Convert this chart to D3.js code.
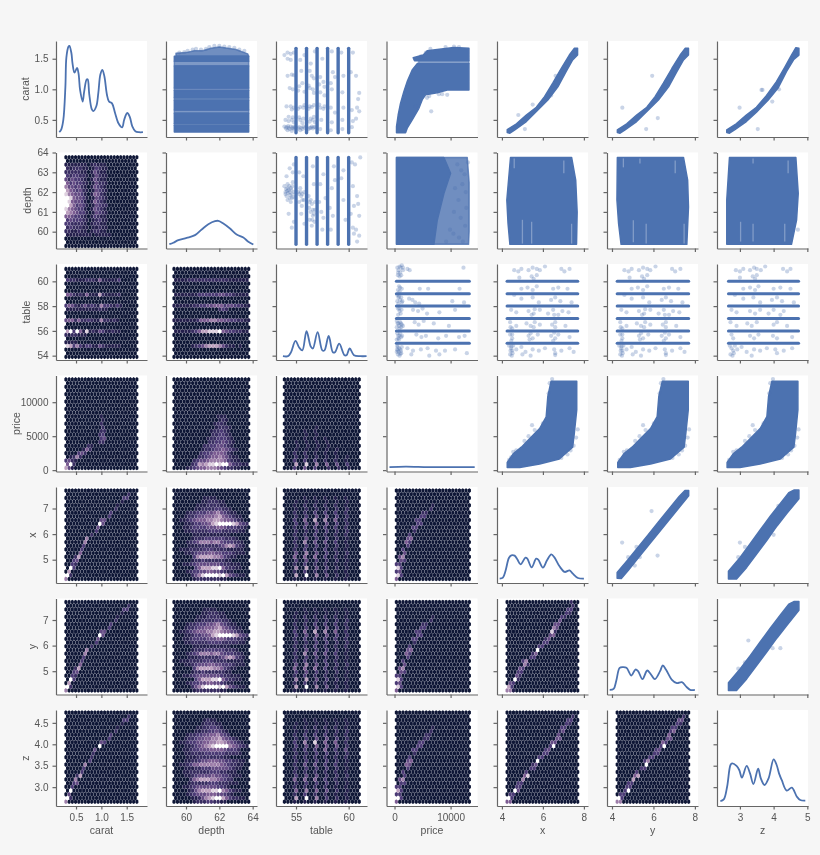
<!DOCTYPE html>
<meta charset="utf-8">
<style>
  body { margin: 0; background: #f6f6f6; }
  svg { display: block; filter: blur(0.4px); }
  .tick text, .lab { font-family: "Liberation Sans", Arial, sans-serif; fill: #555; }
  .tick text { font-size: 10px; }
  .lab { font-size: 10.5px; }
  .tick line, .domain { stroke: #666; stroke-width: 1.2px; }
</style>
<body>
<script src="https://d3js.org/d3.v7.min.js"></script>
<script>
// variables of the pair grid
var vars = ["carat", "depth", "table", "price", "x", "y", "z"];

// axis limits and ticks
var xDomains = [[0.105, 1.9], [58.8, 64.26], [53.1, 61.74], [-1430, 14800], [3.76, 8.2], [3.76, 8.15], [2.32, 5.02]];
var yDomains = [[0.22, 1.79], [59.15, 64.0], [53.65, 61.4], [-200, 13930], [4.09, 7.84], [4.09, 7.84], [2.56, 4.8]];
var xTicks = [[0.5, 1, 1.5], [60, 62, 64], [55, 60], [0, 10000], [4, 6, 8], [4, 6, 8], [3, 4, 5]];
var yTicks = [[0.5, 1, 1.5], [60, 61, 62, 63, 64], [54, 56, 58, 60], [0, 5000, 10000], [5, 6, 7], [5, 6, 7], [3, 3.5, 4, 4.5]];
var extents = [[0.3, 1.7], [59.28, 63.76], [53.9, 61], [330, 13350], [4.25, 7.7], [4.25, 7.7], [2.66, 4.74]];
var tableValues = [55, 56, 57, 58, 59, 60];

// kernel density curves: [value, height as share of the panel]
var kdeCarat = [[.17,.05],[.21,.08],[.25,.18],[.29,.52],[.31,.83],[.35,.94],[.37,.95],[.41,.87],[.43,.77],[.47,.67],[.52,.72],[.55,.66],[.58,.49],[.63,.37],[.66,.47],[.71,.6],[.73,.6],[.76,.45],[.81,.29],[.84,.27],[.9,.32],[.94,.46],[.98,.65],[1.02,.7],[1.06,.63],[1.11,.44],[1.15,.37],[1.21,.35],[1.27,.25],[1.34,.14],[1.41,.1],[1.45,.18],[1.51,.25],[1.56,.21],[1.61,.11],[1.67,.06],[1.74,.05],[1.82,.05]];
var kdeDepth = [[59,.045],[59.24,.06],[59.54,.087],[60.04,.11],[60.54,.139],[60.94,.198],[61.34,.253],[61.74,.285],[61.94,.288],[62.24,.26],[62.64,.208],[63.04,.146],[63.44,.115],[63.74,.07],[64.04,.042]];
var kdeTable = [[53.76,.04],[54.24,.04],[54.52,.08],[54.95,.2],[55.3,.13],[55.6,.1],[56,.3],[56.4,.14],[56.6,.12],[57.05,.29],[57.5,.1],[57.7,.1],[58.1,.25],[58.5,.08],[58.7,.08],[59.1,.17],[59.6,.05],[59.8,.05],[60.1,.12],[60.5,.05],[61.1,.04],[61.7,.04]];
var kdePrice = [[-900,.045],[2000,.05],[6000,.045],[10000,.045],[14300,.045]];
var kdeX = [[3.89,.045],[4.05,.056],[4.18,.13],[4.34,.26],[4.46,.288],[4.62,.285],[4.75,.247],[4.91,.194],[5.15,.264],[5.24,.253],[5.45,.163],[5.67,.253],[5.77,.243],[6,.16],[6.2,.236],[6.41,.299],[6.57,.264],[6.81,.174],[7.06,.115],[7.3,.132],[7.46,.097],[7.71,.052],[8,.045]];
var kdeY = [[3.89,.049],[4.08,.059],[4.21,.146],[4.37,.278],[4.53,.285],[4.7,.278],[4.94,.198],[5.13,.26],[5.26,.243],[5.47,.16],[5.7,.25],[5.86,.215],[6.07,.16],[6.32,.243],[6.45,.302],[6.61,.257],[6.88,.156],[7.13,.118],[7.37,.128],[7.61,.076],[7.77,.049],[8,.049]];
var kdeZ = [[2.42,.052],[2.52,.069],[2.62,.201],[2.72,.427],[2.77,.444],[2.9,.417],[2.98,.375],[3.06,.295],[3.2,.417],[3.3,.34],[3.4,.229],[3.54,.389],[3.62,.288],[3.73,.219],[3.85,.288],[4,.486],[4.09,.427],[4.16,.34],[4.24,.271],[4.39,.16],[4.54,.191],[4.69,.097],[4.79,.062],[4.94,.056]];
var kdes = [kdeCarat, kdeDepth, kdeTable, kdePrice, kdeX, kdeY, kdeZ];

// hexbin counts, levels 0-9 as [row from the bottom, first column, digits]
var hexDepthCarat = [[3,0,"111111110111110"],[4,0,"221121101221100"],[5,0,"232221101121100"],[6,0,"332222101221100"],[7,0,"343332101231100"],[8,0,"554332101321100"],[9,0,"765433101432100"],[10,0,"865433101432100"],[11,0,"975343101432200"],[12,0,"985443101532100"],[13,0,"985443101432100"],[14,0,"865443101542100"],[15,0,"754342101432100"],[16,0,"644342101432100"],[17,0,"534332101422100"],[18,0,"424332101421100"],[19,0,"323322101421100"],[20,0,"222221101421100"],[21,0,"212221101321100"],[22,0,"111111101211100"]];
var hexTableCarat = [[3,0,"87363133114211111"],[7,0,"79395181214311211"],[10,0,"45525223211622121"],[14,0,"354212423216332131"],[17,0,"54212151117211112"],[21,0,"32211122215111113"],[13,0,"1111111111211"],[6,0,"2122111"],[4,0,"1111"]];
var hexTableDepth = [[3,5,"1234677764211 1"],[7,0,"1111123577888954332211"],[10,0,"11111112555665544332211"],[13,13,"232"],[14,0,"11111122334455534433211"],[17,0,"1111111333333443321111"],[21,0,"1111222222222222111111"]];
var hexPriceCarat = [[0,0,"741"],[1,0,"592"],[2,0,"3421"],[3,1,"1262"],[4,4,"342"],[5,5,"152"],[6,7,"21"],[7,10,"22"],[8,11,"34"],[9,10,"23"],[10,11,"22"],[11,11,"2"],[12,11,"2"],[13,11,"1"],[14,11,"1"]];
var hexPriceDepth = [[0,4,"1234556665432211"],[1,5,"23767889899532211"],[2,6,"23445666653211"],[3,7,"223455654211"],[4,8,"2334555421"],[5,8,"12234454321"],[6,9,"223344321"],[7,10,"22334321"],[8,10,"12233321"],[9,11,"223321"],[10,11,"122321"],[11,12,"12221"],[12,12,"1221"],[13,13,"121"],[14,13,"111"]];
var hexPriceTable = [[0,3,"3004003000200200100"],[1,3,"7008006005004003"],[2,3,"3003003002002001"],[3,3,"2002002001001001"],[4,3,"2002001001001"],[5,3,"1001001001001"],[6,4,"1001001001"],[7,3,"1001001001"],[8,6,"1001001"],[9,6,"1001"],[10,6,"1001"],[11,9,"1"]];
var hexXCarat = [[0,0,"6"],[1,0,"92"],[2,1,"7"],[3,1,"93"],[4,2,"32"],[5,2,"34"],[6,3,"27"],[7,4,"5"],[8,5,"3"],[9,5,"3"],[10,6,"6"],[11,6,"6"],[12,8,"2"],[13,9,"3"],[14,10,"4"],[15,10,"94"],[16,11,"44"],[17,13,"3"],[18,14,"3"],[19,15,"2"],[20,16,"1"],[21,17,"1"],[22,18,"33"],[23,19,"2"]];
var hexZCarat = [[0,0,"6"],[1,0,"92"],[2,1,"4"],[3,1,"9"],[4,2,"3"],[5,2,"34"],[6,3,"6"],[7,3,"27"],[8,5,"3"],[9,5,"3"],[10,6,"6"],[11,7,"3"],[12,8,"2"],[13,8,"2"],[14,9,"4"],[15,10,"9"],[16,11,"43"],[17,13,"3"],[18,14,"3"],[19,15,"2"],[20,16,"1"],[21,17,"1"],[22,18,"33"],[23,19,"2"]];
var hexXDepth = [[0,6,"1222222211"],[1,5,"2468999989743211"],[2,4,"12334455443211"],[3,6,"35777889532211"],[4,3,"11234444444322111"],[5,5,"122322222211"],[6,6,"3677776653211"],[7,3,"112344455443332111"],[8,2,"1112222333222211111"],[9,4,"11122222234676321"],[10,4,"12346665664333221"],[11,5,"12223333332221"],[12,6,"11111111111"],[13,3,"112222233332222211"],[14,3,"1123333444554333221"],[15,3,"1123344578999987432"],[16,2,"1123455566776554321"],[17,3,"12234455567543211"],[18,4,"122333445643211"],[19,6,"11222233221"],[20,7,"111222211"],[21,8,"1122211"],[22,9,"1111"]];
var hexZDepth = [[0,6,"1222332211"],[1,5,"1124678997532211"],[2,4,"12344455544321"],[3,4,"1246777889653211"],[4,3,"11234444443321"],[5,4,"122222333222111"],[6,5,"2567776654322"],[7,3,"11234444544332111"],[8,3,"1122222233322111"],[9,3,"11122333444443211"],[10,2,"1123556666665432211"],[11,3,"112234455544332211"],[12,4,"1112222222211"],[13,3,"11222233333322221"],[14,3,"11233444555543332"],[15,3,"1123456789999654321"],[16,2,"1123344556677654321"],[17,3,"1223445566754321"],[18,4,"1223344556432"],[19,6,"1122334321"],[20,7,"11223321"],[21,8,"122211"],[22,9,"1211"]];
var hexXTable = [[0,0,"0001001001001001001000"],[1,0,"0007009006004002001000"],[2,0,"0002003002002001001000"],[3,0,"0006007004003002001000"],[4,0,"0002003002002001001000"],[5,0,"0003004003002002001000"],[6,0,"0005005005003002001000"],[7,0,"0004006004003002002000"],[8,0,"0002003002003002001000"],[9,0,"0002003003002002001000"],[10,0,"0002006004004003001000"],[11,0,"0002004003003002001000"],[12,0,"0002002003002002002000"],[13,0,"0002002003003002002000"],[14,0,"0002003003003003002000"],[15,0,"0003004005004003002000"],[16,0,"0003005007006005002000"],[17,0,"0002003004004003002000"],[18,0,"0002002003003003002000"],[19,0,"0001002002002002002000"],[20,0,"0001002002002002001000"],[21,0,"0001001001001001001000"],[22,0,"0000001001001001001000"]];
var hexZTable = [[0,0,"0001001001001001001000"],[1,0,"0007009006003002001000"],[2,0,"0002003002002001001000"],[3,0,"0005006005004002001000"],[4,0,"0002002002002001001000"],[5,0,"0002003003003002001000"],[6,0,"0005005005003002001000"],[7,0,"0003004004002002002000"],[8,0,"0002002002002002001000"],[9,0,"0002003003003002001000"],[10,0,"0002004004003003001000"],[11,0,"0002003003003002001000"],[12,0,"0002002002002002002000"],[13,0,"0002002003003002002000"],[14,0,"0002003003005003004000"],[15,0,"0003004005004004002000"],[16,0,"0003006008005005002000"],[17,0,"0002003004004003002000"],[18,0,"0002003003003002002000"],[19,0,"0001002002002002002000"],[20,0,"0001001002002002001000"],[21,0,"0001001001001001001000"],[22,0,"0000001001001001001000"]];
var hexXPrice = [[0,0,"5"],[1,0,"83"],[2,0,"34"],[3,0,"83"],[4,0,"33"],[5,1,"43"],[6,1,"46"],[7,2,"4"],[8,2,"3"],[9,3,"3"],[10,3,"53"],[11,3,"45"],[12,4,"3"],[13,5,"2"],[14,5,"33"],[15,6,"33"],[16,6,"33"],[17,7,"33"],[18,8,"22"],[19,10,"2"],[20,11,"1"]];
var hexZPrice = [[0,0,"5"],[1,0,"93"],[2,0,"33"],[3,0,"73"],[4,0,"33"],[5,1,"33"],[6,1,"46"],[7,2,"3"],[8,2,"3"],[9,3,"3"],[10,3,"54"],[11,3,"45"],[12,4,"3"],[13,5,"2"],[14,5,"33"],[15,6,"33"],[16,7,"33"],[17,8,"22"],[18,9,"22"],[19,10,"2"],[20,11,"1"]];
var hexYX = [[0,0,"661"],[1,0,"73"],[2,1,"43"],[3,2,"92"],[4,3,"42"],[5,3,"33"],[6,4,"43"],[7,5,"62"],[8,5,"36"],[9,7,"33"],[10,8,"25"],[11,9,"9"],[12,10,"33"],[13,11,"33"],[14,12,"24"],[15,13,"45"],[16,14,"82"],[17,14,"64"],[18,15,"44"],[19,16,"4"],[20,17,"32"],[21,18,"32"],[22,19,"33"],[23,20,"2"],[24,20,"2"]];
var hexZX = [[0,0,"55"],[1,0,"93"],[2,1,"33"],[3,2,"94"],[4,3,"33"],[5,3,"33"],[6,5,"6"],[7,5,"58"],[8,6,"3"],[9,7,"33"],[10,8,"24"],[11,9,"9"],[12,10,"33"],[13,11,"33"],[14,12,"34"],[15,13,"39"],[16,14,"44"],[17,15,"44"],[18,16,"4"],[19,16,"24"],[20,17,"33"],[21,18,"32"],[22,19,"33"],[23,20,"2"]];
var hexZY = [[0,0,"66"],[1,0,"93"],[2,1,"33"],[3,2,"39"],[4,3,"33"],[5,3,"33"],[6,5,"7"],[7,5,"57"],[8,6,"3"],[9,7,"33"],[10,9,"9"],[11,8,"36"],[12,10,"33"],[13,11,"33"],[14,12,"34"],[15,13,"39"],[16,14,"53"],[17,15,"44"],[18,16,"5"],[19,16,"35"],[20,17,"33"],[21,18,"32"],[22,19,"44"],[23,20,"2"]];

// upper triangle: outlines of the solid clouds, [x value, y value]
var caratPriceLow = [[357,.29],[357,.39],[655,.58],[1071,.77],[1666,.96],[2261,1.125],[3154,1.315],[4046,1.42],[13270,1.42],[13270,.99],[9400,.99],[7616,.945],[5534,.91],[4940,.83],[4344,.69],[3154,.5],[2261,.365],[1964,.29]];
var caratPriceHigh = [[3332,1.516],[3570,1.467],[13270,1.467],[13270,1.67],[10590,1.685],[7616,1.65],[5831,1.63],[5117,1.56]];
var caratPriceThin = [[4300,1.42],[4300,1.467],[13270,1.467],[13270,1.42]];
var caratX = [[4.26,.34],[4.71,.435],[5.19,.58],[5.68,.707],[6.08,.88],[6.48,1.1],[6.89,1.34],[7.29,1.56],[7.53,1.67],[7.69,1.67],[7.69,1.56],[7.45,1.48],[7.13,1.29],[6.73,1.04],[6.24,.826],[5.68,.636],[5.19,.473],[4.63,.337],[4.39,.283],[4.26,.293]];
var caratY = [[4.26,.337],[4.71,.435],[5.19,.58],[5.68,.707],[6.08,.88],[6.48,1.1],[6.89,1.34],[7.29,1.56],[7.53,1.67],[7.69,1.67],[7.69,1.56],[7.45,1.48],[7.13,1.29],[6.73,1.04],[6.24,.826],[5.68,.636],[5.19,.473],[4.63,.337],[4.39,.283],[4.26,.293]];
var caratZ = [[2.61,.337],[2.89,.435],[3.19,.58],[3.49,.707],[3.79,.9],[4.08,1.12],[4.33,1.36],[4.53,1.56],[4.66,1.68],[4.75,1.67],[4.75,1.56],[4.6,1.49],[4.38,1.29],[4.13,1.02],[3.84,.826],[3.49,.625],[3.19,.473],[2.84,.337],[2.69,.283],[2.61,.293]];
var depthPriceDense = [[357,63.75],[8806,63.75],[10000,62.95],[8800,61.93],[7616,60.58],[7021,59.36],[357,59.36]];
var depthPriceThin = [[357,63.75],[12970,63.75],[13300,62.5],[13300,60],[13200,59.36],[357,59.36]];
var depthX = [[4.42,63.75],[4.24,61.6],[4.3,60.4],[4.39,59.36],[7.64,59.36],[7.67,61],[7.6,62.6],[7.4,63.75]];
var depthY = [[4.26,63.75],[4.24,61.6],[4.32,60.4],[4.44,59.36],[7.61,59.36],[7.69,61.25],[7.65,62.6],[7.45,63.75]];
var depthZ = [[2.69,63.75],[2.61,61.6],[2.61,59.36],[4.53,59.36],[4.68,60.58],[4.73,61.93],[4.66,63.75]];
var xyBand = [[4.25,4.28],[4.25,4.5],[4.75,4.98],[5.25,5.48],[5.75,5.98],[6.25,6.48],[6.75,6.98],[7.25,7.48],[7.52,7.7],[7.7,7.7],[7.7,7.5],[7.3,7.1],[6.8,6.6],[6.3,6.1],[5.8,5.6],[5.3,5.1],[4.8,4.6],[4.45,4.27]];
var xzBand = [[2.66,4.25],[2.66,4.55],[3,5.08],[3.3,5.62],[3.6,6.16],[3.9,6.7],[4.2,7.2],[4.45,7.62],[4.6,7.72],[4.75,7.72],[4.75,7.38],[4.4,6.82],[4.1,6.32],[3.8,5.76],[3.5,5.23],[3.2,4.7],[2.9,4.25]];
var yzBand = [[2.66,4.25],[2.66,4.55],[3,5.08],[3.3,5.6],[3.6,6.14],[3.9,6.68],[4.2,7.2],[4.45,7.62],[4.6,7.72],[4.75,7.72],[4.75,7.38],[4.4,6.8],[4.1,6.3],[3.8,5.76],[3.5,5.23],[3.2,4.7],[2.9,4.25]];
var priceXBand = [[4.26,398],[4.26,1144],[4.55,2388],[4.95,3383],[5.35,4627],[5.84,6119],[6.16,7860],[6.24,10845],[6.4,13084],[7.65,13084],[7.65,8855],[7.53,5373],[7.45,3383],[6.8,1642],[5.84,895],[4.87,398]];
var priceYBand = [[4.28,398],[4.28,1144],[4.57,2388],[4.97,3383],[5.37,4627],[5.86,6119],[6.18,7860],[6.26,10845],[6.43,13084],[7.68,13084],[7.68,8855],[7.56,5373],[7.48,3383],[6.82,1642],[5.86,895],[4.89,398]];
var priceZBand = [[2.62,398],[2.62,1144],[2.8,2388],[3.05,3383],[3.3,4627],[3.6,6119],[3.8,7860],[3.85,10845],[3.95,13084],[4.72,13084],[4.72,8855],[4.65,5373],[4.6,3383],[4.2,1642],[3.6,895],[3,398]];

// carat bands across depth: [from, to]
var caratDepthDense = [[.3,.41],[.44,.61],[.66,.82],[.86,.98],[1.02,1.38],[1.46,1.54]];
var caratDepthThin = [[.41,.44],[.61,.66],[.82,.86],[.98,1.02],[1.38,1.46]];
var caratDepthTop = [[59.4,1.54],[59.4,1.59],[60,1.6],[60.5,1.63],[61,1.63],[61.5,1.67],[62,1.69],[62.5,1.67],[63,1.65],[63.7,1.58],[63.76,1.54]];

// pale gaps inside the depth clouds: [x value, depth from, depth to]
var gapsX = [[7.02,63.6,62.95],[5,60.6,59.4],[5.45,60.5,59.4],[4.6,63.7,63.2],[7.4,60.4,59.4]];
var gapsY = [[7.05,63.6,62.95],[5.35,63.7,63.45],[5.03,60.58,59.47],[5.65,60.4,59.4],[7.48,60.4,59.4],[4.55,63.7,63.25]];
var gapsZ = [[3.39,63.7,63.45],[4.43,63.6,62.95],[3.02,60.5,59.5],[3.39,60.4,59.5],[4.33,60.4,59.5]];

// loose points around the clouds and strips
var strayCaratDepth = [[59.6,1.6],[59.9,1.61],[60.1,1.63],[60.4,1.65],[60.6,1.66],[60.9,1.65],[61.2,1.66],[61.4,1.69],[61.7,1.71],[62,1.71],[62.3,1.7],[62.6,1.69],[62.9,1.68],[63.2,1.65],[63.5,1.63]];
var strayCaratPrice = [[6545,.64],[9400,.91],[8500,.92],[7900,.92],[5800,.86],[6200,.89],[4700,1.54],[5600,1.6],[6400,1.66],[9100,1.69],[10600,1.7],[11500,1.69],[5100,.95],[3800,.72]];
var strayCaratX = [[5.12,.35],[4.8,.58],[6.62,1.22],[6.4,.9],[5.5,.75]];
var strayCaratY = [[5.94,1.22],[4.5,.7],[6.21,.53],[5.65,.35]];
var strayCaratZ = [[2.99,.7],[3.53,.35],[3.67,.99],[3.64,.99],[4.16,1],[3.96,.8]];
var strayDepthPrice = [[11200,63.4],[11900,63.1],[12500,62.9],[12100,62.4],[12700,62],[13100,63.5],[10800,62.2],[11400,61.6],[12800,61.2],[10600,61],[11800,60.7],[12600,60.3],[9900,60.1],[10500,59.9],[11500,59.7],[12200,59.5],[9200,59.5]];
var strayDepthZ = [[4.72,60.1]];
var strayXY = [[5.91,6.9],[4.49,5.67],[6.2,5.16],[5.1,4.77],[4.78,5.1],[5.18,5.5],[5.34,5.1]];
var strayXZ = [[3,5.67],[3.15,5.5],[2.95,5.1],[4,5.97],[4.14,7.1]];
var strayYZ = [[3.25,6.2],[3.97,5.9],[4.2,5.9],[2.95,5.1],[3.15,5.35],[3,4.55]];
var strayPriceX = [[5.47,6620],[6,6870],[4.55,2700],[4.7,2900],[5.1,4300],[5.3,5000],[5.6,5900],[6.28,11300],[6.33,12800],[6.45,13400],[7.7,6000],[7.62,4800],[7.5,3600],[7.35,2900],[7.2,2300],[6.9,1800],[4.35,1500],[4.45,1900]];
var strayPriceY = [[5.5,6620],[6.02,6870],[4.57,2700],[4.72,2900],[5.12,4300],[5.33,5000],[5.62,5900],[6.3,11300],[6.36,12800],[6.48,13400],[7.72,6000],[7.65,4800],[7.53,3600],[7.38,2900],[7.22,2300],[6.92,1800],[4.37,1500]];
var strayPriceZ = [[3.38,6620],[3.7,6870],[2.8,2700],[2.9,2900],[3.15,4300],[3.28,5000],[3.45,5900],[3.87,11300],[3.9,12800],[3.98,13400],[4.74,6000],[4.7,4800],[4.62,3600],[4.52,2900],[4.43,2300],[4.25,1800],[2.68,1500]];
var strayCaratTable = [[53.9,1.56],[54.2,1.6],[54.5,1.58],[54.8,1.6],[54.2,1.5],[54.5,1.48],[54.2,1.22],[54.6,1.24],[54.8,1.23],[54.4,1.02],[54.7,1],[55.4,1.48],[55.8,1.56],[56.4,1.42],[56.8,1.62],[57.5,1.5],[58.4,1.62],[59.3,1.6],[60.4,1.6],[55.5,1.3],[56.3,1.3],[56.5,1.22],[56.7,1.18],[57.3,1.2],[57.6,1.12],[58.5,1.28],[58.7,1.2],[59.5,1.22],[60.7,1.22],[60.2,1.28],[61,.94],[60.9,.84],[55.3,1.05],[55.6,1.1],[56.3,1.02],[56.6,1],[57.3,.95],[57.7,.9],[58.4,1],[59.4,.95],[54.1,.72],[54.5,.72],[54.8,.7],[55.4,.71],[55.7,.7],[56.3,.72],[56.5,.71],[57.3,.7],[57.6,.68],[58.3,.7],[58.7,.62],[59.5,.7],[60.3,.66],[60.8,.7],[61,.64],[54,.5],[54.3,.48],[54.6,.5],[54.8,.46],[55.4,.5],[55.6,.45],[56.3,.47],[56.6,.5],[56.8,.46],[57.4,.5],[58.4,.46],[59.4,.5],[60.4,.48],[60.7,.52],[53.9,.39],[54.1,.38],[54.3,.37],[54.5,.39],[54.7,.38],[54.8,.36],[55.3,.38],[55.5,.37],[55.7,.39],[56.3,.37],[56.5,.39],[56.7,.38],[54.2,.33],[54.6,.32],[55.4,.33],[57.3,.35],[58.3,.33],[59.4,.35],[60.3,.38],[54.05,.36],[54.25,.4],[54.4,.35],[54.65,.36],[54.9,.38],[55.2,.36],[55.6,.35],[55.85,.37],[56.2,.35],[56.4,.37],[56.6,.36],[56.85,.38],[54.3,.55],[54.7,.54],[55.3,.54],[55.7,.52],[56.4,.52],[56.7,.55],[54.6,.67],[55.2,.68],[55.8,.74],[56.2,.68],[56.7,.74],[57.2,.75],[57.7,.72],[55.2,.98],[55.8,.96],[56.2,1.06],[56.7,.94],[57.2,1.08],[57.7,1.04],[58.3,1.1]];
var strayDepthTable = [[53.9,62.3],[54,62],[54.1,61.8],[54.2,62.4],[54.3,62.1],[54.4,61.7],[54.5,62.2],[54.6,61.9],[54.7,62.5],[54.8,62],[54.2,61.6],[54.5,61.5],[54.1,62.8],[54.4,63.2],[54.7,63],[54.8,63.4],[54.3,60.9],[54.8,60.5],[54.6,60.2],[55.2,62],[55.4,62.2],[55.5,61.8],[55.6,61.6],[55.8,62],[55.3,63],[55.7,62.8],[55.5,60.9],[55.8,60.4],[56.2,61.8],[56.4,61.6],[56.5,61.4],[56.6,61.1],[56.7,60.9],[56.8,61.5],[56.3,60.6],[56.5,60.3],[56.7,62.4],[56.6,63.3],[57.2,61.5],[57.4,61],[57.6,60.7],[57.8,61.7],[57.3,62.4],[57.6,62.9],[57.5,60.1],[58.2,61.2],[58.5,60.8],[58.4,62.2],[58.7,62.6],[58.6,63.3],[58.3,60.1],[59.3,62.7],[59.5,61.6],[59.7,60.6],[59.5,63.1],[60.3,63.5],[60.6,63.4],[61.1,63.75],[60.4,62.3],[60.8,61.8],[60.5,61.3],[60.9,61.4],[60.2,60.9],[61,60.8],[60.4,60.2],[60.7,60.1],[60.5,59.9],[61,59.8],[60.8,59.5],[54.05,62.15],[54.15,62.05],[54.25,61.95],[54.35,62.3],[54.45,61.85],[54.55,62.1],[54.65,62.3],[54.75,61.75],[54,61.9],[54.2,62.2],[54.4,62],[54.6,61.7],[55.3,61.9],[55.45,62],[55.6,61.9],[55.3,61.5],[55.55,61.3],[55.75,61.6],[56.25,61.2],[56.4,61],[56.6,60.8],[56.8,61.1],[56.3,61.5],[56.55,60.6],[56.75,60.5]];
var strayTablePrice = [[500,61.1],[700,60.9],[900,61.2],[1100,61.1],[1300,61.3],[1500,60.9],[2300,61],[2700,60.9],[12300,61.1],[600,60.5],[900,60.4],[1200,60.5],[800,59.6],[1000,59.5],[600,59.3],[900,59.2],[1300,59.4],[4500,59.4],[6000,59.4],[11600,59.4],[500,58.9],[700,58.7],[1000,58.5],[1400,58.4],[2600,58.6],[3200,58.5],[3700,58.3],[500,58.4],[700,58.2],[1300,58.3],[4400,58.2],[10300,58.4],[12400,58.3],[600,57.8],[900,57.6],[1100,57.4],[3300,57.7],[4200,57.6],[5000,57.8],[5800,57.4],[8000,57.5],[10800,57.7],[400,56.8],[700,56.6],[1000,56.7],[1300,56.5],[3600,56.7],[4300,56.5],[5200,56.8],[7000,56.6],[9700,56.4],[400,56.3],[800,56.4],[1200,56.3],[500,55.8],[900,55.6],[1200,55.5],[3900,55.7],[4800,55.5],[5600,55.6],[7800,55.4],[9200,55.6],[11500,55.5],[12500,55.6],[400,55.3],[700,55.4],[500,54.8],[800,54.6],[1000,54.5],[1300,54.7],[2300,54.6],[3300,54.4],[4700,54.5],[5900,54.6],[7400,54.4],[9000,54.4],[10800,54.5],[12900,54.2],[400,54.3],[600,54.1],[900,54],[1200,54.2],[3000,54.1],[6200,54],[8000,54.1],[450,54.5],[600,54.4],[750,54.3],[1050,54.15],[550,54.7],[1150,54.4],[650,55.6],[800,55.3],[1000,55.8],[1350,55.6],[550,56.6],[900,56.2],[1150,56.6],[1500,56.4],[650,57.3],[850,57.8],[1250,57.7],[800,58.8],[1200,58.7],[1000,60.7],[650,60.7],[1500,61.1]];
var strayTableX = [[4.6,60.9],[4.8,60.8],[4.95,61],[5.3,60.9],[5.5,61.1],[5.7,61],[5.85,60.9],[6.1,61.2],[6.9,61],[7.05,60.8],[7.3,61],[5.45,60.4],[5.7,60.5],[5.55,60.2],[4.85,60.3],[4.95,59.4],[5.25,59.5],[5.5,59.3],[5.7,59.6],[6.5,59.4],[6.75,59.5],[7.2,59.4],[4.6,58.9],[4.95,58.6],[5.5,58.7],[5.8,58.3],[6.4,58.5],[6.6,58.7],[6.85,58.4],[7.4,58.3],[4.45,57.7],[4.7,57.5],[5.3,57.6],[5.55,57.4],[5.85,57.7],[6.25,57.4],[6.5,57.7],[6.75,57.3],[6.95,57.6],[7.25,57.5],[4.4,56.7],[4.7,56.4],[5.2,56.6],[5.4,56.4],[5.6,56.7],[5.85,56.5],[6.45,56.5],[6.6,56.7],[7.1,56.4],[4.4,55.7],[4.5,55.4],[5.3,55.6],[5.5,55.4],[5.75,55.7],[6.4,55.6],[6.6,55.4],[6.75,55.7],[7.3,55.5],[4.35,54.8],[4.45,54.6],[4.5,54.4],[4.55,54.8],[4.7,54.5],[4.95,54.7],[5.15,54.3],[5.5,54.5],[5.8,54.4],[6.1,54.6],[6.55,54.5],[6.6,54.2],[6.9,54.4],[7.3,54.6],[7.5,54.3],[4.4,54.1],[4.48,54],[4.52,54.2],[5,54.1],[5.4,54],[6.6,54.05],[4.42,54.4],[4.46,54.75],[4.5,55.7],[4.46,55.2],[4.42,56.3],[4.5,56.2],[5.35,55.3],[5.4,55.8],[5.55,56.3],[5.45,57.3],[5.6,57.75],[6.5,55.2],[6.55,55.85],[6.6,56.3],[6.55,57.3]];
var strayTableZ = [[2.88,60.9],[3,60.8],[3.1,61],[3.3,60.9],[3.42,61.1],[3.5,61],[3.62,60.9],[3.75,61.2],[4.28,61],[4.4,60.8],[4.5,61],[3.38,60.4],[3.5,60.5],[3.45,60.2],[3,60.3],[3.1,59.4],[3.3,59.5],[3.45,59.3],[3.55,59.6],[4,59.4],[4.2,59.5],[4.5,59.4],[2.85,58.9],[3.1,58.6],[3.4,58.7],[3.6,58.3],[3.95,58.5],[4.1,58.7],[4.25,58.4],[4.6,58.3],[2.75,57.7],[2.9,57.5],[3.3,57.6],[3.45,57.4],[3.6,57.7],[3.85,57.4],[4,57.7],[4.2,57.3],[4.3,57.6],[2.72,56.7],[2.9,56.4],[3.22,56.6],[3.35,56.4],[3.5,56.7],[4,56.5],[4.1,56.7],[4.4,56.4],[2.75,55.7],[2.8,55.4],[3.3,55.6],[3.42,55.4],[3.55,55.7],[3.98,55.6],[4.1,55.4],[4.55,55.5],[2.7,54.8],[2.75,54.6],[2.8,54.4],[2.85,54.8],[2.92,54.5],[3.05,54.7],[3.2,54.3],[3.42,54.5],[3.6,54.4],[3.8,54.6],[4.05,54.5],[4.1,54.2],[4.3,54.4],[4.55,54.6],[2.72,54.1],[2.78,54],[2.82,54.2],[3.35,54]];

// one entry per panel, keyed "row variable|column variable"
var hexData = {
  "depth|carat": hexDepthCarat, "table|carat": hexTableCarat, "price|carat": hexPriceCarat,
  "x|carat": hexXCarat, "y|carat": hexXCarat, "z|carat": hexZCarat,
  "table|depth": hexTableDepth, "price|depth": hexPriceDepth,
  "x|depth": hexXDepth, "y|depth": hexXDepth, "z|depth": hexZDepth,
  "price|table": hexPriceTable, "x|table": hexXTable, "y|table": hexXTable, "z|table": hexZTable,
  "x|price": hexXPrice, "y|price": hexXPrice, "z|price": hexZPrice,
  "y|x": hexYX, "z|x": hexZX, "z|y": hexZY
};
var strayData = {
  "carat|depth": strayCaratDepth, "carat|table": strayCaratTable, "carat|price": strayCaratPrice,
  "carat|x": strayCaratX, "carat|y": strayCaratY, "carat|z": strayCaratZ,
  "depth|table": strayDepthTable, "depth|price": strayDepthPrice, "depth|z": strayDepthZ,
  "table|price": strayTablePrice, "table|x": strayTableX, "table|y": strayTableX, "table|z": strayTableZ,
  "price|x": strayPriceX, "price|y": strayPriceY, "price|z": strayPriceZ,
  "x|y": strayXY, "x|z": strayXZ, "y|z": strayYZ
};
var cloudData = {
  "carat|x": caratX, "carat|y": caratY, "carat|z": caratZ,
  "depth|x": depthX, "depth|y": depthY, "depth|z": depthZ,
  "price|x": priceXBand, "price|y": priceYBand, "price|z": priceZBand,
  "x|y": xyBand, "x|z": xzBand, "y|z": yzBand
};
var gapData = { "depth|x": gapsX, "depth|y": gapsY, "depth|z": gapsZ };

// layout
var blue = "#4c72b0";
var width = 820, height = 855, pw = 91, ph = 96;
var colX = [56, 166, 276, 386.5, 497, 607, 717];
var rowY = [41, 152.5, 264, 375.5, 487, 598.5, 710];
var rowLabelX = [26, 28, 27, 17, 33, 33, 26];
var hexCols = 22, hexRows = 24;

var color = d3.scaleLinear()
  .domain([0, 1, 3, 5, 7, 9])
  .range(["#0e1636", "#241f4c", "#4b3a75", "#7c5c92", "#bda0bf", "#ffffff"]);

var svg = d3.select("body").append("svg")
  .attr("width", width).attr("height", height);
svg.append("rect").attr("width", width).attr("height", height).attr("fill", "#f6f6f6");

var outline = d3.line().curve(d3.curveLinearClosed);

vars.forEach(function(rowVar, i) {
  vars.forEach(function(colVar, j) {
    var g = svg.append("g").attr("transform", "translate(" + colX[j] + "," + rowY[i] + ")");
    g.append("rect").attr("width", pw).attr("height", ph).attr("fill", "#fff");

    var sx = d3.scaleLinear().domain(xDomains[j]).range([0, pw]);
    var sy = d3.scaleLinear().domain(yDomains[i]).range([ph, 0]);
    var key = rowVar + "|" + colVar;
    var toPx = function(d) { return [sx(d[0]), sy(d[1])]; };

    if (i === j) {
      // density curve on the diagonal
      var h = d3.scaleLinear().domain([0, 1]).range([ph, 0]);
      g.append("path")
        .attr("fill", "none").attr("stroke", blue).attr("stroke-width", 1.8)
        .attr("d", d3.line().x(function(d) { return sx(d[0]); }).y(function(d) { return h(d[1]); })
          .curve(d3.curveCatmullRom)(kdes[i]));
    } else if (i > j) {
      drawHex(g, sx, sy, extents[j], extents[i], hexData[key]);
    } else {
      drawScatter(g, sx, sy, key, toPx);
    }

    var xAxis = d3.axisBottom(sx).tickValues(xTicks[j]).tickSize(3.5).tickSizeOuter(0).tickPadding(4)
      .tickFormat(colVar === "carat" ? d3.format(".1f") : d3.format("d"));
    var yAxis = d3.axisLeft(sy).tickValues(yTicks[i]).tickSize(3.5).tickSizeOuter(0).tickPadding(4)
      .tickFormat(rowVar === "carat" || rowVar === "z" ? d3.format(".1f") : d3.format("d"));
    if (i < vars.length - 1) xAxis.tickFormat("");
    if (j > 0) yAxis.tickFormat("");
    g.append("g").attr("transform", "translate(0," + ph + ")").call(xAxis);
    g.append("g").call(yAxis);

    if (i === vars.length - 1) {
      g.append("text").attr("class", "lab").attr("x", pw / 2).attr("y", ph + 28)
        .attr("text-anchor", "middle").text(colVar);
    }
    if (j === 0) {
      g.append("text").attr("class", "lab")
        .attr("transform", "translate(" + (rowLabelX[i] - colX[0] + 3) + "," + (ph / 2) + ") rotate(-90)")
        .attr("text-anchor", "middle").text(rowVar);
    }
  });
});

// hexbin panel: a full lattice of dark cells, coloured from the level rows
function drawHex(g, sx, sy, ex, ey, rows) {
  var levels = {};
  rows.forEach(function(r) {
    r[2].split("").forEach(function(ch, k) {
      if (ch !== " ") levels[r[0] + "," + (r[1] + k)] = +ch;
    });
  });
  var dx = (ex[1] - ex[0]) / hexCols, dy = (ey[1] - ey[0]) / hexRows;
  var w = Math.abs(sx(ex[0] + dx) - sx(ex[0])), rh = Math.abs(sy(ey[0] + dy) - sy(ey[0]));
  var hw = w / 2 - 0.1, a = rh * 2 / 3 - 0.1, b = rh / 3;
  var hex = "M0," + (-a) + "L" + hw + "," + (-b) + "L" + hw + "," + b + "L0," + a + "L" + (-hw) + "," + b + "L" + (-hw) + "," + (-b) + "Z";
  var cells = [];
  d3.range(hexRows + 1).forEach(function(r) {
    var odd = r % 2 === 1;
    d3.range(odd ? hexCols : hexCols + 1).forEach(function(c) {
      cells.push({ r: r, c: c, odd: odd });
    });
  });
  g.selectAll(".hex").data(cells).enter().append("path")
    .attr("class", "hex")
    .attr("d", hex)
    .attr("transform", function(d) {
      return "translate(" + sx(ex[0] + (d.c + (d.odd ? .5 : 0)) * dx) + "," + sy(ey[0] + d.r * dy) + ")";
    })
    .attr("fill", function(d) { return color(levels[d.r + "," + d.c] || 0); });
}

// scatter panel: solid outlines and strips for the packed part, dots for the loose part
function drawScatter(g, sx, sy, key, toPx) {
  var fillPoly = function(pts, op) {
    g.append("path").attr("d", outline(pts.map(toPx)))
      .attr("fill", blue).attr("fill-opacity", op)
      .attr("stroke", blue).attr("stroke-opacity", op).attr("stroke-width", 1.5).attr("stroke-linejoin", "round");
  };
  if (key === "carat|depth") {
    caratDepthThin.forEach(function(b) { fillPoly([[59.3,b[0]],[63.76,b[0]],[63.76,b[1]],[59.3,b[1]]], .72); });
    caratDepthDense.forEach(function(b) { fillPoly([[59.3,b[0]],[63.76,b[0]],[63.76,b[1]],[59.3,b[1]]], 1); });
    fillPoly(caratDepthTop, .8);
  }
  if (key === "carat|price") {
    fillPoly(caratPriceThin, .5); fillPoly(caratPriceLow, 1); fillPoly(caratPriceHigh, 1);
  }
  if (key === "depth|price") {
    fillPoly(depthPriceThin, .8); fillPoly(depthPriceDense, 1);
  }
  if (cloudData[key]) fillPoly(cloudData[key], 1);
  if (gapData[key]) {
    g.selectAll(".gap").data(gapData[key]).enter().append("line").attr("class", "gap")
      .attr("x1", function(d) { return sx(d[0]); }).attr("x2", function(d) { return sx(d[0]); })
      .attr("y1", function(d) { return sy(d[1]); }).attr("y2", function(d) { return sy(d[2]); })
      .attr("stroke", "#fff").attr("stroke-opacity", .3).attr("stroke-width", 1.3);
  }
  if (key === "carat|table" || key === "depth|table") {
    var yr = key === "carat|table" ? [.29, 1.67] : [59.36, 63.75];
    g.selectAll(".strip").data(tableValues).enter().append("line").attr("class", "strip")
      .attr("x1", sx).attr("x2", sx).attr("y1", sy(yr[0])).attr("y2", sy(yr[1]))
      .attr("stroke", blue).attr("stroke-width", 3.4).attr("stroke-linecap", "round");
  }
  if (key.indexOf("table|") === 0) {
    var xr = extents[vars.indexOf(key.split("|")[1])];
    g.selectAll(".strip").data(tableValues).enter().append("line").attr("class", "strip")
      .attr("y1", sy).attr("y2", sy).attr("x1", sx(xr[0])).attr("x2", sx(xr[1]))
      .attr("stroke", blue).attr("stroke-width", 3).attr("stroke-linecap", "round");
  }
  g.selectAll(".dot").data(strayData[key] || []).enter().append("circle").attr("class", "dot")
    .attr("cx", function(d) { return sx(d[0]); }).attr("cy", function(d) { return sy(d[1]); })
    .attr("r", 2.1).attr("fill", blue).attr("fill-opacity", .3);
}
</script>
</body>
